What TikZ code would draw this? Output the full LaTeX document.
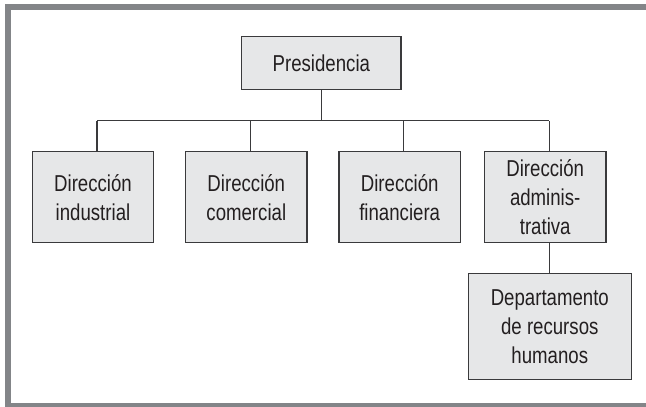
\documentclass[tikz,border=0pt]{standalone}
\usepackage{fontspec}
\setmainfont{Liberation Sans}[FakeStretch=0.81]
\definecolor{framec}{HTML}{838588}
\definecolor{boxfill}{HTML}{E6E7E8}
\definecolor{boxline}{HTML}{3A3A3C}
\definecolor{txt}{HTML}{231F20}
\begin{document}
\begin{tikzpicture}[x=1pt,y=-1pt,
  box/.style={draw=boxline, fill=boxfill, line width=1.2pt, align=center,
    inner sep=0pt, text=txt, font=\fontsize{23}{29}\selectfont,
    minimum width=121.4pt, minimum height=91pt},
  conn/.style={draw=boxline, line width=1.2pt}]
\useasboundingbox (0,0) rectangle (646,407);
\fill[white] (0,0) rectangle (646,407);
\draw[framec, line width=6pt] (660,7) -- (8,7) -- (8,406) -- (660,406);

\node[box, minimum width=159.3pt, minimum height=53.3pt] (pres) at (321.35,63) {Presidencia};
\node[box] (ind) at (93,197.2) {Dirección\\industrial};
\node[box] (com) at (246.3,197.2) {Dirección\\comercial};
\node[box] (fin) at (399.7,197.2) {Dirección\\financiera};
\node[box] (adm) at (545.2,197.2) {Dirección\\adminis-\\trativa};
\node[box, minimum width=163pt, minimum height=105.6pt] (dep) at (549.8,326.5) {Departamento\\de recursos\\humanos};

\coordinate (bus) at (321,120.7);
\draw[conn] ([xshift=4pt]ind.north |- bus) -- ([xshift=4pt]adm.north |- bus);
\draw[conn] (pres.south) -- (pres.south |- bus);
\foreach \c in {ind,com,fin,adm}
  \draw[conn] ([xshift=4pt]\c.north) -- ([xshift=4pt]\c.north |- bus);
\draw[conn] ([xshift=4pt]adm.south) -- ([xshift=4pt]adm.south |- dep.north);
\end{tikzpicture}
\end{document}
